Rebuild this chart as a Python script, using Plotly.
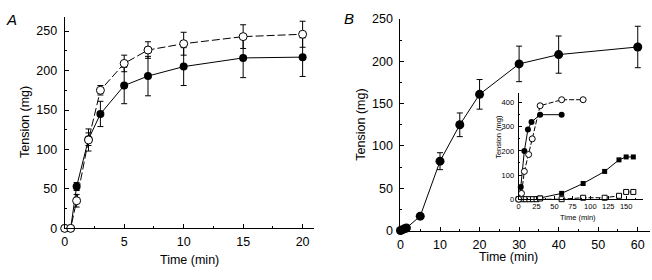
import plotly.graph_objects as go

# ---------------- Panel A data ----------------
a_time = [0, 0.5, 1, 2, 3, 5, 7, 10, 15, 20]
a_filled = [0, 0, 53, 113, 145, 181, 193, 205, 216, 217]
a_filled_err = [0, 0, 5, 8, 16, 23, 25, 24, 25, 24.5]
a_open = [0, 0, 35, 112, 175, 209, 226, 234, 243, 246]
a_open_err = [0, 0, 8, 14, 6, 10.5, 10.5, 14.5, 15, 16.5]

# ---------------- Panel B data ----------------
b_time = [0, 0.5, 1, 1.5, 5, 10, 15, 20, 30, 40, 60]
b_tension = [0, 1, 2, 3, 17, 82, 125, 161, 197, 208, 217]
b_err = [0, 0, 0, 0, 0, 10, 14, 17.5, 21, 22, 24.5]

# ---------------- Inset data ----------------
in_fc_time = [0, 3, 8, 13, 18, 30, 60]
in_fc_val = [0, 50, 200, 289, 320, 350, 350]
in_oc_time = [0, 4, 8, 14, 19, 30, 60, 90]
in_oc_val = [0, 24, 115, 185, 250, 387, 412, 412]
in_fs_time = [0, 5, 10, 15, 20, 25, 30, 60, 90, 120, 140, 150, 160]
in_fs_val = [0, 0, 0, 0, 0, 0, 5, 24, 65, 115, 163, 175, 175]
in_os_time = [0, 5, 10, 15, 20, 25, 30, 60, 90, 120, 140, 150, 160]
in_os_val = [0, 0, 0, 0, 0, 0, 3, 0, 6, 6, 14, 30, 30]

FONT = "Liberation Sans, Arial, Helvetica, sans-serif"
W, H = 652, 280


def px_x(p):
    return p / W


def px_y(p):
    return 1 - p / H


fig = go.Figure()

err_style = dict(type="data", thickness=1, width=3, color="black", visible=True)

# Panel A
fig.add_trace(go.Scatter(
    x=a_time, y=a_filled, mode="lines+markers", xaxis="x", yaxis="y",
    line=dict(color="black", width=1),
    marker=dict(symbol="circle", size=8, color="black"),
    error_y=dict(array=a_filled_err, **err_style), cliponaxis=False, showlegend=False))
fig.add_trace(go.Scatter(
    x=a_time, y=a_open, mode="lines+markers", xaxis="x", yaxis="y",
    line=dict(color="black", width=1, dash="8px,3px"),
    marker=dict(symbol="circle", size=8, color="white", line=dict(color="black", width=1)),
    error_y=dict(array=a_open_err, **err_style), cliponaxis=False, showlegend=False))

# Panel B
fig.add_trace(go.Scatter(
    x=b_time, y=b_tension, mode="lines+markers", xaxis="x2", yaxis="y2",
    line=dict(color="black", width=1),
    marker=dict(symbol="circle", size=9, color="black"),
    error_y=dict(array=b_err, **err_style), cliponaxis=False, showlegend=False))

# Inset
fig.add_trace(go.Scatter(
    x=in_fs_time, y=in_fs_val, mode="lines+markers", xaxis="x3", yaxis="y3",
    line=dict(color="black", width=1),
    marker=dict(symbol="square", size=5, color="black"),
    cliponaxis=False, showlegend=False))
fig.add_trace(go.Scatter(
    x=in_os_time, y=in_os_val, mode="lines+markers", xaxis="x3", yaxis="y3",
    line=dict(color="black", width=1, dash="5px,2px"),
    marker=dict(symbol="square", size=5, color="white", line=dict(color="black", width=1)),
    cliponaxis=False, showlegend=False))
fig.add_trace(go.Scatter(
    x=in_fc_time, y=in_fc_val, mode="lines+markers", xaxis="x3", yaxis="y3",
    line=dict(color="black", width=1),
    marker=dict(symbol="circle", size=6, color="black"),
    cliponaxis=False, showlegend=False))
fig.add_trace(go.Scatter(
    x=in_oc_time, y=in_oc_val, mode="lines+markers", xaxis="x3", yaxis="y3",
    line=dict(color="black", width=1, dash="5px,2px"),
    marker=dict(symbol="circle", size=6, color="white", line=dict(color="black", width=1)),
    cliponaxis=False, showlegend=False))


def axis(domain, rng, dtick, minor_dtick, anchor, size=12.5, ticklen=4, minorlen=2):
    return dict(
        domain=domain, range=rng, anchor=anchor, dtick=dtick, tick0=0,
        showline=True, linecolor="black", linewidth=1, showgrid=False, zeroline=False,
        ticks="inside", ticklen=ticklen, tickwidth=1, tickcolor="black",
        minor=dict(ticks="inside", ticklen=minorlen, dtick=minor_dtick, tick0=0,
                   tickcolor="black", showgrid=False),
        tickfont=dict(family=FONT, size=size, color="black"),
        fixedrange=True,
    )


layout = dict(
    width=W, height=H, margin=dict(l=0, r=0, t=0, b=0),
    paper_bgcolor="white", plot_bgcolor="rgba(0,0,0,0)",
    font=dict(family=FONT, color="black"),
)
layout["xaxis"] = axis([px_x(62), px_x(312)], [0, 20.92], 5, 2.5, "y")
layout["yaxis"] = axis([px_y(233), px_y(10)], [0, 268.5], 50, 25, "x")
layout["xaxis2"] = axis([px_x(399.3), px_x(650)], [0, 63.1], 10, 5, "y2")
layout["yaxis2"] = axis([px_y(235.3), px_y(12.7)], [0, 250], 50, 25, "x2")
layout["xaxis3"] = axis([px_x(518), px_x(642.6)], [0, 173], 25, 12.5, "y3", size=7.5, ticklen=3, minorlen=1.5)
layout["yaxis3"] = axis([px_y(202.3), px_y(91)], [0, 438], 100, 50, "x3", size=7.5, ticklen=3, minorlen=1.5)
layout["yaxis"]["ticklabelstandoff"] = 4
layout["yaxis2"]["ticklabelstandoff"] = 4
layout["xaxis"]["ticklabelstandoff"] = 2
layout["xaxis2"]["ticklabelstandoff"] = 2
layout["yaxis3"]["ticklabelstandoff"] = 2
fig.update_layout(**layout)


def ann(text, x, y, size, angle=0, italic=False):
    fig.add_annotation(
        text=f"<i>{text}</i>" if italic else text,
        x=px_x(x), y=px_y(y), xref="paper", yref="paper",
        xanchor="center", yanchor="middle", showarrow=False, textangle=angle,
        font=dict(family=FONT, size=size, color="black"))


ann("A", 9, 13, 15, italic=True)
ann("B", 348, 12, 15, italic=True)
ann("Time (min)", 187, 266.5, 12.5)
ann("Tension (mg)", 22.7, 121.5, 12.5, angle=-90)
ann("Time (min)", 508, 263.5, 12.5)
ann("Tension (mg)", 360, 123.5, 12.5, angle=-90)
ann("Time (min)", 578, 221.5, 7.5)
ann("Tension (mg)", 497, 137, 7.5, angle=-90)

fig.write_html(
    "out.html",
    config={"displayModeBar": False},
    post_script="document.body.style.margin='0';document.body.style.overflow='hidden';",
)
